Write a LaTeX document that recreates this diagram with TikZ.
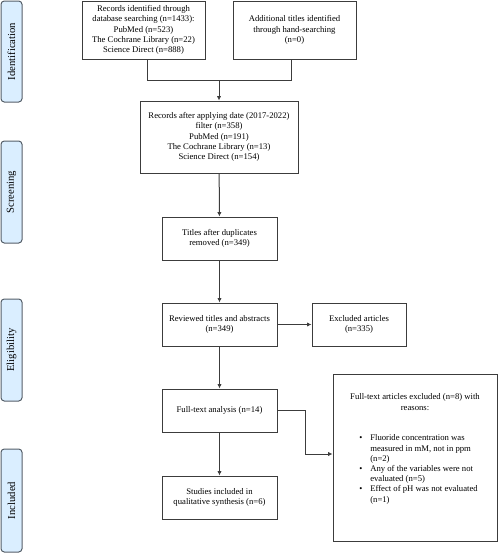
\documentclass[tikz,border=0pt]{standalone}
\usepackage{fontspec}
\setmainfont{Liberation Serif}
\usetikzlibrary{arrows.meta,positioning}
\definecolor{boxline}{RGB}{60,60,60}
\definecolor{sidefill}{RGB}{218,238,255}
\definecolor{sideline}{RGB}{85,95,105}
\begin{document}
\begin{tikzpicture}[x=0.75pt,y=-0.75pt,
  flowbox/.style={draw=boxline,line width=0.75pt,fill=white,inner sep=1pt,align=center,
    font=\fontsize{6.5}{7.8}\selectfont},
  sidebox/.style={draw=sideline,line width=0.75pt,fill=sidefill,rounded corners=2.5pt,
    minimum width=21*0.75pt,inner sep=0pt,font=\fontsize{8}{9.6}\selectfont},
  sidetext/.style={rotate=90,font=\fontsize{8}{9.6}\selectfont},
  arr/.style={draw=boxline,line width=0.75pt,-{Latex[length=3.2pt,width=3.2pt]}},
  conn/.style={draw=boxline,line width=0.75pt},
  plain/.style={inner sep=0pt,font=\fontsize{6.5}{7.8}\selectfont}]
\useasboundingbox (0,0) rectangle (500,553);
% side labels
\node[sidebox,minimum height=101*0.75pt] (sid) at (11.5,51.5) {};
\node[sidetext] (sidt) at (sid.center) {Identification};
\node[sidebox,minimum height=102*0.75pt] (sscr) at (11.5,192) {};
\node[sidetext] (sscrt) at (sscr.center) {Screening};
\node[sidebox,minimum height=102*0.75pt] (selg) at (11.5,350) {};
\node[sidetext] (selgt) at (selg.center) {Eligibility};
\node[sidebox,minimum height=103*0.75pt] (sinc) at (11.5,500.5) {};
\node[sidetext] (sinct) at (sinc.center) {Included};
% boxes
\node[flowbox,minimum width=123*0.75pt,minimum height=58*0.75pt] (b1) at (143.5,30)
  {Records identified through\\database searching (n=1433):\\PubMed (n=523)\\The Cochrane Library (n=22)\\Science Direct (n=888)};
\node[flowbox,minimum width=123*0.75pt,minimum height=58*0.75pt] (b2) at (294.5,30)
  {Additional titles identified\\through hand-searching\\(n=0)};
\node[flowbox,minimum width=158*0.75pt,minimum height=72*0.75pt] (b3) at (219,137)
  {Records after applying date (2017-2022)\\filter (n=358)\\PubMed (n=191)\\The Cochrane Library (n=13)\\Science Direct (n=154)};
\node[flowbox,minimum width=115*0.75pt,minimum height=43*0.75pt] (b4) at (219.5,238.5)
  {Titles after duplicates\\removed (n=349)};
\node[flowbox,minimum width=115*0.75pt,minimum height=43*0.75pt] (b5) at (219.5,324.5)
  {Reviewed titles and abstracts\\(n=349)};
\node[flowbox,minimum width=94*0.75pt,minimum height=43*0.75pt] (ex1) at (359,324.5)
  {Excluded articles\\(n=335)};
\node[flowbox,minimum width=115*0.75pt,minimum height=43*0.75pt] (b6) at (219.5,410.5)
  {Full-text analysis (n=14)};
\node[flowbox,minimum width=115*0.75pt,minimum height=43*0.75pt] (b7) at (219.5,497.5)
  {Studies included in\\qualitative synthesis (n=6)};
\node[flowbox,minimum width=164*0.75pt,minimum height=167*0.75pt] (ex2) at (415,457.5) {};
\node[plain,align=center] (ex2h) at (415,402)
  {Full-text articles excluded (n=8) with\\reasons:};
\node[plain,anchor=north west] (ex2l) at (359,433.5)
  {\renewcommand{\arraystretch}{0.98}%
   \begin{tabular}{@{}l@{\hspace{6pt}}l@{}}
   \textbullet & Fluoride concentration was\\
     & measured in mM, not in ppm\\
     & (n=2)\\
   \textbullet & Any of the variables were not\\
     & evaluated (n=5)\\
   \textbullet & Effect of pH was not evaluated\\
     & (n=1)
   \end{tabular}};
% connectors
\coordinate (j) at (219,80);
\draw[conn] ([xshift=3.5*0.75pt]b1.south) |- (j);
\draw[conn] ([xshift=-3.5*0.75pt]b2.south) |- (j);
\draw[arr] (j) -- (b3.north);
\draw[arr] (b3) -- (b4);
\draw[arr] (b4) -- (b5);
\draw[arr] (b5) -- (ex1);
\draw[arr] (b5) -- (b6);
\draw[arr] (b6) -- (b7);
\coordinate (k) at (305,454);
\draw[arr] (b6.east) -| (k) -- (k -| ex2.west);
\end{tikzpicture}
\end{document}
